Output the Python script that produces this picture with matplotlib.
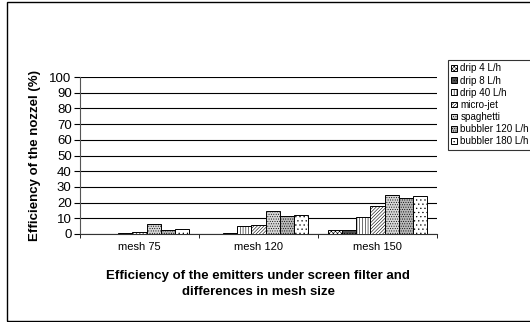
import matplotlib
matplotlib.use('Agg')
import matplotlib.pyplot as plt
from matplotlib.patches import Rectangle
import numpy as np

# data
categorias = ['mesh 75', 'mesh 120', 'mesh 150']
series = ['drip 4 L/h', 'drip 8 L/h', 'drip 40 L/h', 'micro-jet',
          'spaghetti', 'bubbler 120 L/h', 'bubbler 180 L/h']
drip4 = [0.0, 0.2, 2.8]
drip8 = [0.0, 0.6, 2.8]
drip40 = [0.4, 5.3, 10.9]
microjet = [1.0, 6.0, 17.7]
spaghetti = [6.6, 14.7, 24.9]
bubbler120 = [2.3, 11.5, 23.0]
bubbler180 = [3.4, 11.9, 24.3]
valores = [drip4, drip8, drip40, microjet, spaghetti, bubbler120, bubbler180]

# estilo de cada serie (cor de fundo, hachura)
estilos = [
    ('white', 'xxxxxxxx'),
    ('#505050', '......'),
    ('white', '||||||'),
    ('white', '//////////'),
    ('#d8d8d8', '.......'),
    ('#b8b8b8', '.......'),
    ('white', '....'),
]

plt.rcParams['font.family'] = ['Liberation Sans', 'DejaVu Sans']
plt.rcParams['hatch.linewidth'] = 0.4

fig = plt.figure(figsize=(5.30, 3.22), dpi=100)
ax = fig.add_axes([80 / 530, 1 - 234 / 322, 357 / 530, 157 / 322])

x = np.arange(len(categorias))
largura = 0.12
for i, (nome, vals) in enumerate(zip(series, valores)):
    cor, hatch = estilos[i]
    pos = x + (i - 3) * largura
    ax.bar(pos, vals, largura, color=cor, edgecolor='black', hatch=hatch,
           linewidth=0.7, label=nome, zorder=3)

ax.set_ylim(0, 100)
ax.set_xlim(-0.5, 2.5)
ax.set_yticks(range(0, 101, 10))
ax.yaxis.grid(True, color='black', linewidth=0.8, zorder=0)
ax.set_xticks(x)
ax.set_xticklabels(categorias, fontsize=8)
ax.set_xticks([-0.5, 0.5, 1.5, 2.5], minor=True)
ax.tick_params(axis='x', which='major', length=0, pad=6)
ax.tick_params(axis='x', which='minor', length=3, direction='out')
ax.tick_params(axis='y', labelsize=9.5, length=4, pad=2)
for lado in ['top', 'right']:
    ax.spines[lado].set_visible(False)
ax.spines['left'].set_color('#555555')
ax.spines['bottom'].set_color('#333333')

ax.set_ylabel('Efficiency of the nozzel (%)', fontsize=9.5, fontweight='bold', labelpad=6)
fig.text(258 / 530, 1 - 284 / 322,
         'Efficiency of the emitters under screen filter and\ndifferences in mesh size',
         ha='center', va='center', fontsize=9.5, fontweight='bold', linespacing=1.4)

leg = fig.legend(loc='upper left', bbox_to_anchor=(448 / 530, 1 - 60 / 322),
                 fontsize=7.1, frameon=True, fancybox=False, edgecolor='black',
                 handlelength=0.6, handleheight=0.5, handletextpad=0.3,
                 borderpad=0.35, labelspacing=0.22, borderaxespad=0)
leg.get_frame().set_linewidth(0.8)

# moldura externa do grafico
fig.patches.append(Rectangle((7 / 530, 1.5 / 322), 1.0, 1 - 3.5 / 322,
                             transform=fig.transFigure, fill=False,
                             edgecolor='black', linewidth=1.0))

fig.savefig('out.png', dpi=100)
